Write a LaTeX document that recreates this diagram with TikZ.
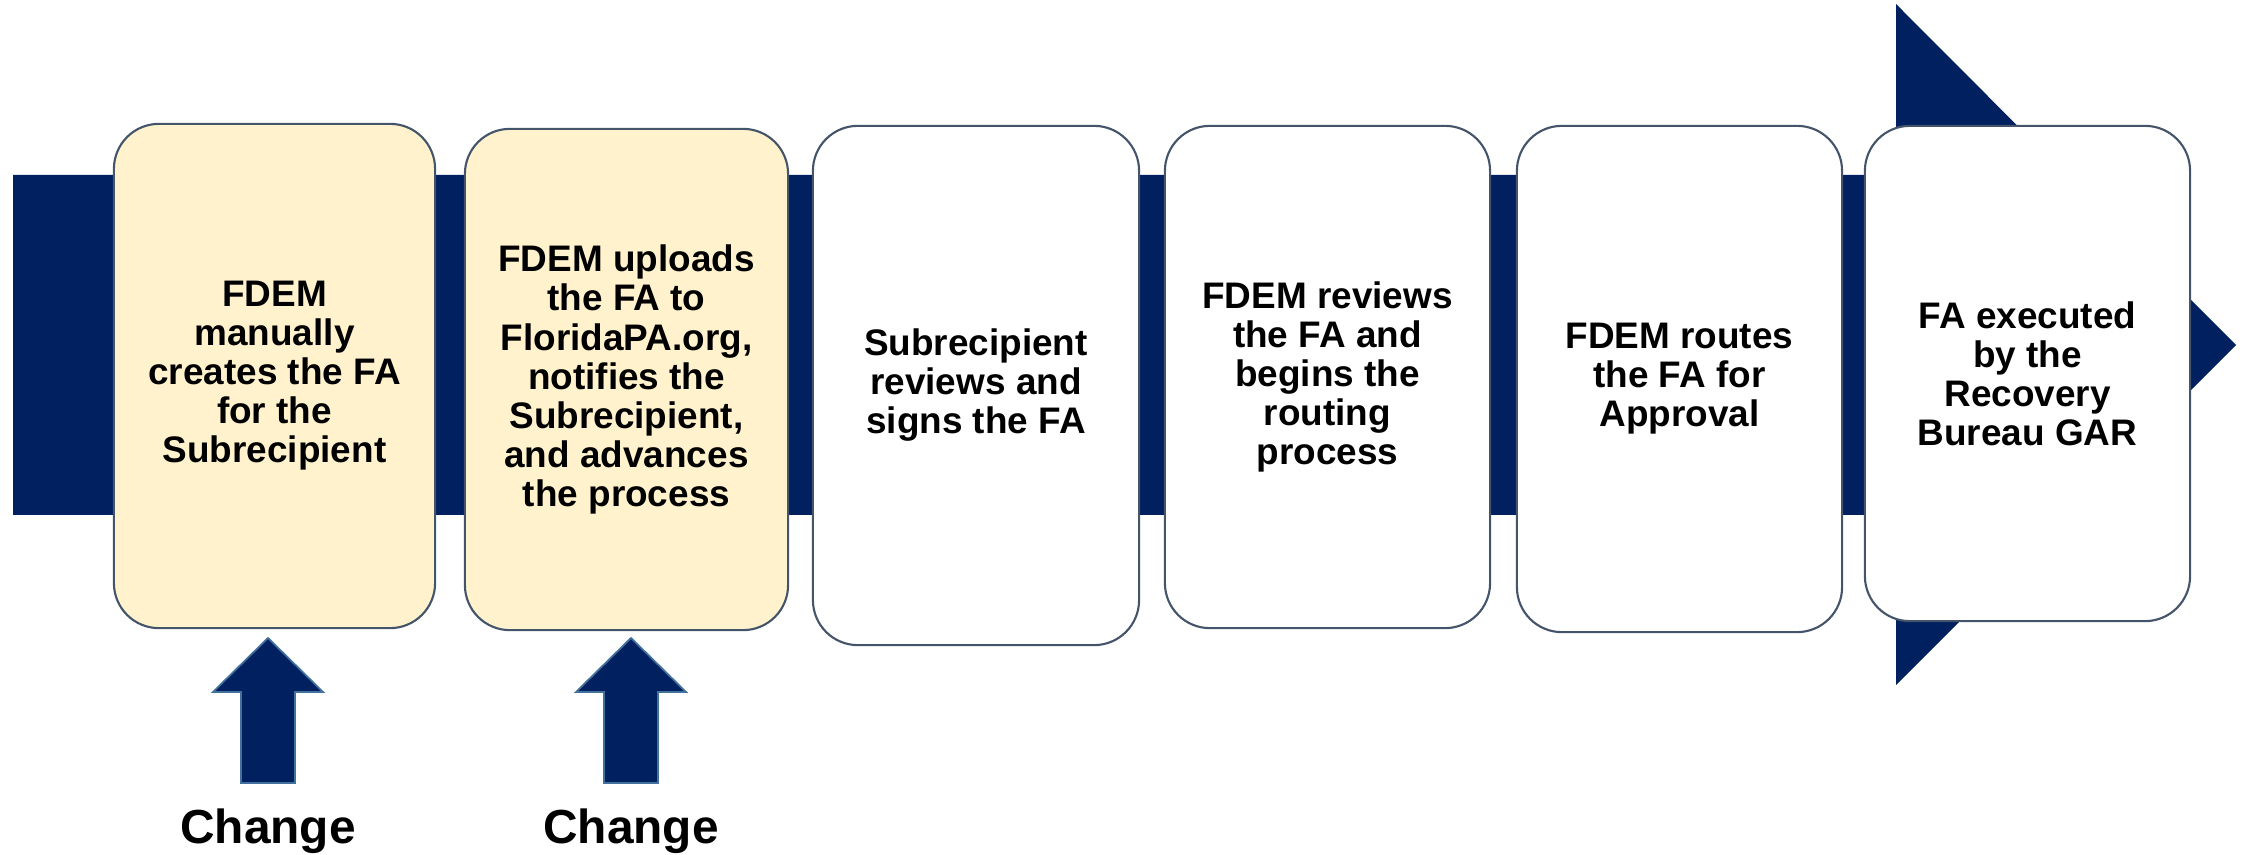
\documentclass[tikz,border=0pt]{standalone}
\usepackage{fontspec}
\setmainfont{Liberation Sans}
\definecolor{navy}{HTML}{002060}
\definecolor{cream}{HTML}{FFF2CC}
\definecolor{boxedge}{HTML}{44546A}
\definecolor{arrowedge}{HTML}{41719C}
\begin{document}
\begin{tikzpicture}[x=0.01cm,y=-0.01cm,
  stepbox/.style={draw=boxedge,line width=0.6pt,rounded corners=0.45cm,align=center,
    font=\bfseries\fontsize{10.5}{11.1}\selectfont,inner sep=0pt,fill=white},
  hilite/.style={fill=cream},
  uparrow/.style={fill=navy,draw=arrowedge,line width=0.5pt},
  changelbl/.style={font=\bfseries\fontsize{13.6}{16}\selectfont,inner sep=0pt}]
\useasboundingbox (0,0) rectangle (2244,855);
% main band with arrow head
\fill[navy] (13,175) -- (1896,175) -- (1896,4) -- (2236,345) -- (1896,685) -- (1896,515) -- (13,515) -- cycle;
% step boxes
\node[stepbox,hilite,minimum width=3.21cm,minimum height=5.04cm] (b1) at (274.5,376)
  {FDEM\\manually\\creates the FA\\for the\\Subrecipient};
\node[stepbox,hilite,minimum width=3.23cm,minimum height=5.01cm] (b2) at (626.5,379.5)
  {FDEM uploads\\the FA to\\FloridaPA.org,\\notifies the\\Subrecipient,\\and advances\\the process};
\node[stepbox,minimum width=3.26cm,minimum height=5.19cm] (b3) at (976,385.5)
  {Subrecipient\\reviews and\\signs the FA};
\node[stepbox,minimum width=3.25cm,minimum height=5.02cm] (b4) at (1327.5,377)
  {FDEM reviews\\the FA and\\begins the\\routing\\process};
\node[stepbox,minimum width=3.25cm,minimum height=5.06cm] (b5) at (1679.5,379)
  {FDEM routes\\the FA for\\Approval};
\node[stepbox,minimum width=3.25cm,minimum height=4.95cm] (b6) at (2027.5,373.5)
  {FA executed\\by the\\Recovery\\Bureau GAR};
% change arrows
\foreach \cx/\nm in {268/c1,631/c2}{
  \draw[uparrow] (\cx,638) -- (\cx+55,692) -- (\cx+27,692) -- (\cx+27,783)
    -- (\cx-27,783) -- (\cx-27,692) -- (\cx-55,692) -- cycle;
  \node[changelbl,anchor=base] (\nm) at (\cx,844) {Change};
}
\end{tikzpicture}
\end{document}
